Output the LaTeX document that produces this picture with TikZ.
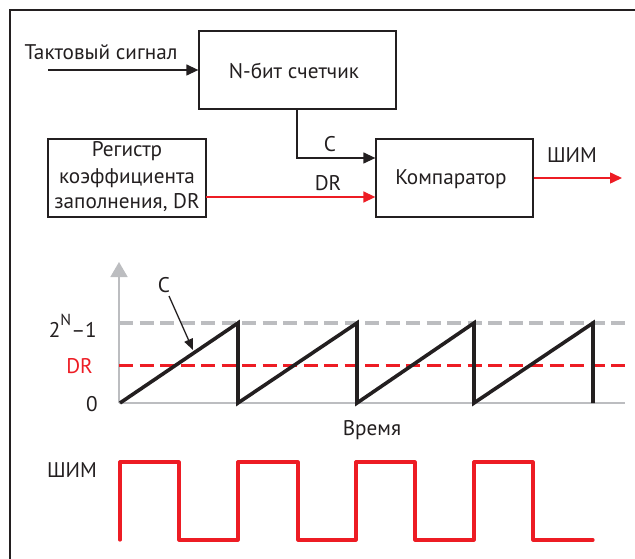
\documentclass[tikz,border=0pt]{standalone}
\usepackage{fontspec}
\setmainfont{PT Sans}
\usetikzlibrary{arrows.meta}
\definecolor{txt}{RGB}{35,31,32}
\definecolor{pwmred}{RGB}{237,28,36}
\definecolor{axgray}{RGB}{188,189,192}
\begin{document}
\begin{tikzpicture}[x=1pt,y=-1pt,
  font=\fontsize{21.2}{25.5}\selectfont, text=txt,
  box/.style={draw=txt, line width=1.3pt, inner sep=0pt, align=center},
  lbl/.style={anchor=base, inner sep=0pt},
  tip/.style={-{Triangle[length=12pt,width=11pt]}},
  wire/.style={draw=txt, line width=1.3pt, tip},
  redwire/.style={draw=pwmred, line width=1.5pt, tip},
  saw/.style={draw=txt, line width=3.6pt, line join=miter},
  pwm/.style={draw=pwmred, line width=3.2pt, line join=round, line cap=round},
  dashgray/.style={draw=axgray, line width=3.2pt, dash pattern=on 14pt off 6.5pt},
  dashred/.style={draw=pwmred, line width=3pt, dash pattern=on 14pt off 6.5pt},
  axis/.style={draw=axgray, line width=1.6pt}
]
\useasboundingbox (0,0) rectangle (635,559);
% frame
\draw[draw=txt, line width=1.3pt] (10,559) -- (10,10) -- (635,10);

% blocks
\node[box, minimum width=197pt, minimum height=78pt] (counter) at (297.5,70) {};
\node[lbl] (countertxt) at (294,79) {N-бит счетчик};
\node[box, minimum width=158pt, minimum height=78pt] (register) at (127,178) {};
\node[lbl] (reg1) at (127,157) {Регистр};
\node[lbl] (reg2) at (127,183) {коэффициента};
\node[lbl] (reg3) at (127,208) {заполнения, DR};
\node[box, minimum width=157pt, minimum height=78pt] (comp) at (454.5,178) {};
\node[lbl] (comptxt) at (451,185) {Компаратор};

% clock
\coordinate (clk) at (48,70);
\node[lbl] (clklbl) at (101,60) {Тактовый сигнал};
\draw[wire] (clk) -- (counter.west);

% counter -> comparator
\coordinate (cbend) at (297,158);
\draw[wire] (counter.south -| cbend) -- (cbend) -- (cbend -| comp.west);
\node[lbl] (clbl) at (330,152) {C};

% register -> comparator
\coordinate (drs) at (206,197);
\draw[redwire] (drs) -- (drs -| comp.west);
\node[lbl] (drlbl) at (328,191) {DR};

% output
\coordinate (outend) at (622,178);
\draw[redwire] (comp.east) -- (outend);
\node[lbl] (outlbl) at (572,163) {ШИМ};

% chart
\coordinate (o) at (119,403);
\coordinate (ytop) at (119,262);
\draw[axis, -{Triangle[length=15pt,width=17pt]}] (o) -- (ytop);
\draw[axis] (o) -- (625,403);
\draw[dashgray] (119,323) -- (625,323);
\draw[dashred] (119,365) -- (625,365);
\draw[saw] (120,403) -- (238,323) -- (238,403) -- (357,323) -- (357,403)
  -- (474,323) -- (474,403) -- (593,323) -- (593,403);

\node[lbl, anchor=base east] (lmax) at (97,337) {2\raisebox{0.55em}{\fontsize{16}{16}\selectfont N}–1};
\node[lbl, anchor=base east, text=pwmred] (ldr) at (93,373) {DR};
\node[lbl, anchor=base east] (lzero) at (98,411) {0};
\node[lbl] (csaw) at (164,292) {C};
\draw[draw=txt, line width=1.3pt, -{Triangle[length=11pt,width=9pt]}] (169,296) -- (193,350);
\node[lbl] (time) at (372,435) {Время};

% PWM
\node[lbl] (pwmlbl) at (72,477) {ШИМ};
\draw[pwm] (120,540) -- (120,462) -- (179,462) -- (179,540) -- (238,540) -- (238,462)
  -- (298,462) -- (298,540) -- (356,540) -- (356,462) -- (415,462) -- (415,540)
  -- (474,540) -- (474,462) -- (533,462) -- (533,540) -- (593,540);
\end{tikzpicture}
\end{document}
